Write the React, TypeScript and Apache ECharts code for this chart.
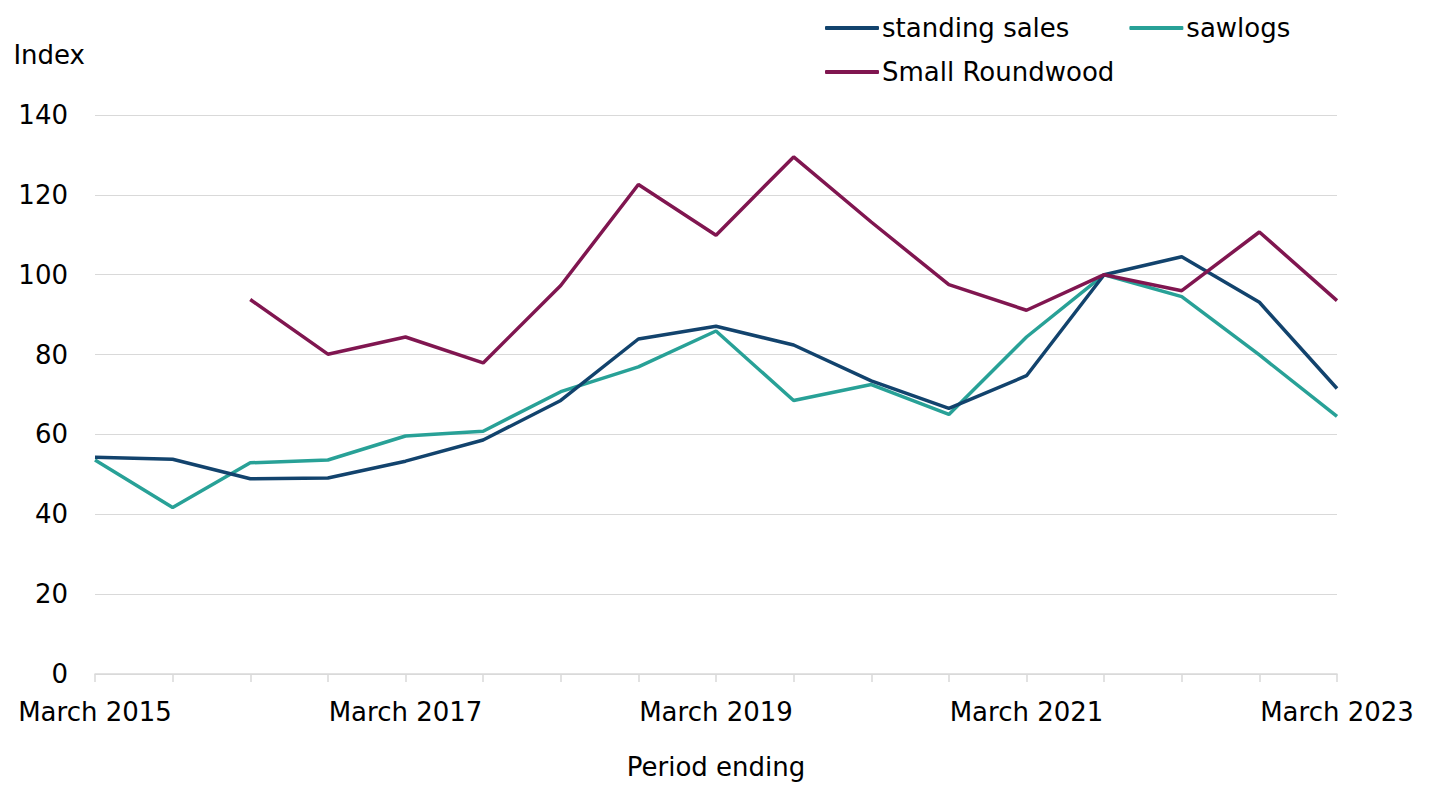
import React, { useEffect, useRef } from "react";
import * as echarts from "echarts";

const categories: string[] = [
  "March 2015", "September 2015", "March 2016", "September 2016",
  "March 2017", "September 2017", "March 2018", "September 2018",
  "March 2019", "September 2019", "March 2020", "September 2020",
  "March 2021", "September 2021", "March 2022", "September 2022",
  "March 2023",
];

const standingSales: (number | null)[] = [
  54.3, 53.8, 48.9, 49.1, 53.3, 58.6, 68.5, 83.9, 87.1, 82.4, 73.4, 66.5,
  74.7, 100, 104.5, 93.1, 71.5,
];

const sawlogs: (number | null)[] = [
  53.6, 41.7, 52.9, 53.6, 59.6, 60.8, 70.7, 76.9, 85.9, 68.5, 72.5, 65.0,
  84.4, 100, 94.5, 79.9, 64.5,
];

const smallRoundwood: (number | null)[] = [
  null, null, 93.8, 80.1, 84.4, 77.9, 97.3, 122.6, 109.9, 129.5, 113.2,
  97.5, 91.1, 100, 96.0, 110.7, 93.5,
];

const FONT = "DejaVu Sans";
const FS = 26;

export default function App() {
  const ref = useRef<HTMLDivElement>(null);

  useEffect(() => {
    if (!ref.current) return;
    const chart = echarts.init(ref.current, undefined, { renderer: "svg" });
    const legendBase = {
      orient: "horizontal" as const,
      left: 820,
      icon: "roundRect",
      itemWidth: 54,
      itemHeight: 4,
      itemGap: 60,
      textStyle: { fontFamily: FONT, fontSize: FS, color: "#000", padding: [0, 0, 0, -2] },
      selectedMode: false,
    };
    chart.setOption({
      animation: false,
      backgroundColor: "#fff",
      textStyle: { fontFamily: FONT },
      legend: [
        { ...legendBase, top: 10, data: ["standing sales", "sawlogs"] },
        { ...legendBase, top: 54, data: ["Small Roundwood"] },
      ],
      grid: { left: 95, right: 95, top: 115, bottom: 106, containLabel: false },
      xAxis: {
        type: "category",
        data: categories,
        boundaryGap: false,
        name: "Period ending",
        nameLocation: "middle",
        nameGap: 80,
        nameTextStyle: { fontFamily: FONT, fontSize: FS, color: "#000", verticalAlign: "top" },
        axisLine: { lineStyle: { color: "#d9d9d9", width: 1.5 } },
        axisTick: { show: true, interval: 0, length: 8, lineStyle: { color: "#d9d9d9", width: 1.5 } },
        axisLabel: {
          interval: 3,
          fontFamily: FONT,
          fontSize: FS,
          color: "#000",
          margin: 25,
          showMinLabel: true,
          showMaxLabel: true,
        },
        splitLine: { show: false },
      },
      yAxis: {
        type: "value",
        min: 0,
        max: 140,
        interval: 20,
        name: "Index",
        nameLocation: "end",
        nameGap: 60,
        nameTextStyle: { fontFamily: FONT, fontSize: FS, color: "#000", align: "right", verticalAlign: "middle", padding: [0, 10, 0, 0] },
        axisLine: { show: false },
        axisTick: { show: false },
        axisLabel: { fontFamily: FONT, fontSize: FS, color: "#000", margin: 27 },
        splitLine: { lineStyle: { color: "#d9d9d9", width: 1 } },
      },
      series: [
        {
          name: "standing sales",
          type: "line",
          data: standingSales,
          showSymbol: false,
          symbol: "none",
          lineStyle: { color: "#12436D", width: 3.5 },
          itemStyle: { color: "#12436D" },
          z: 3,
        },
        {
          name: "sawlogs",
          type: "line",
          data: sawlogs,
          showSymbol: false,
          symbol: "none",
          lineStyle: { color: "#28A197", width: 3.5 },
          itemStyle: { color: "#28A197" },
          z: 2,
        },
        {
          name: "Small Roundwood",
          type: "line",
          data: smallRoundwood,
          showSymbol: false,
          symbol: "none",
          connectNulls: false,
          lineStyle: { color: "#801650", width: 3.5 },
          itemStyle: { color: "#801650" },
          z: 4,
        },
      ],
    });
    return () => chart.dispose();
  }, []);

  return <div ref={ref} style={{ width: 1432, height: 785, position: "absolute", left: 0, top: 0 }} />;
}
